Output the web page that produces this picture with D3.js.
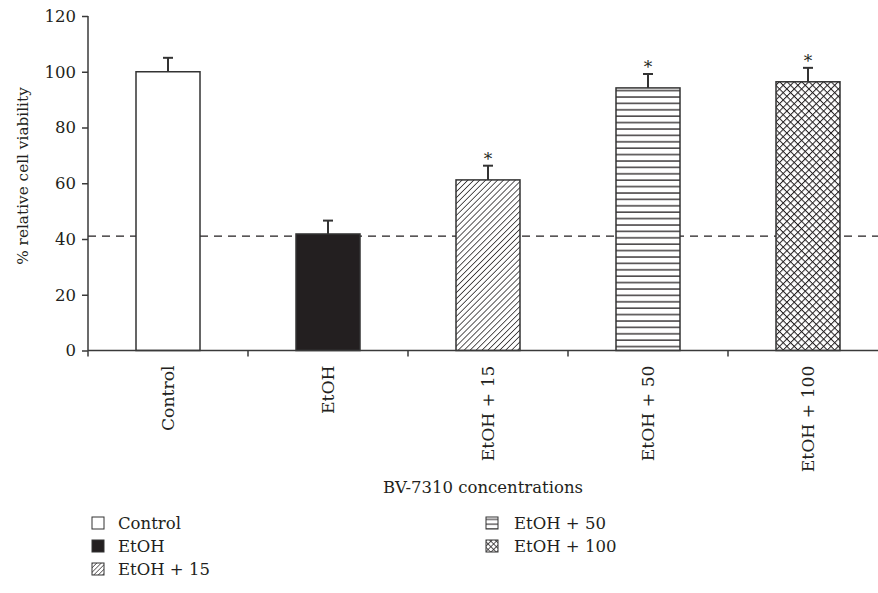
<!DOCTYPE html>
<html>
<head>
<meta charset="utf-8">
<script src="https://cdn.jsdelivr.net/npm/d3@7"></script>
<style>
  html, body { margin: 0; padding: 0; background: #fff; }
  svg { display: block; }
  text { font-family: "DejaVu Serif", "Liberation Serif", serif; fill: #231f20; }
</style>
</head>
<body>
<svg id="chart" width="878" height="593"></svg>
<script>
// ---- data ----
const categories = ["Control", "EtOH", "EtOH + 15", "EtOH + 50", "EtOH + 100"];
const values = [100, 41.8, 61.2, 94.2, 96.4];
const errors = [5.0, 4.8, 5.1, 5.0, 5.0];
const significant = [false, false, true, true, true];
const patterns = ["white", "solid", "diag", "horiz", "cross"];
const yTicks = [0, 20, 40, 60, 80, 100, 120];
const referenceLine = 41;
const xTitle = "BV-7310 concentrations";
const yTitle = "% relative cell viability";

const FS = 16.5;
const svg = d3.select("#chart");
const ink = "#231f20";
const axisColor = "#3a3a3a";

const x = d3.scaleBand().domain(categories).range([88, 888]).paddingInner(0.6).paddingOuter(0.3);
const y = d3.scaleLinear().domain([0, 120]).range([350.5, 16]);

// ---- patterns ----
const defs = svg.append("defs");
function makePatterns(prefix, scale) {
  const d = 4.2 * scale;
  const pd = defs.append("pattern").attr("id", prefix + "diag").attr("patternUnits", "userSpaceOnUse")
    .attr("width", d).attr("height", d).attr("patternTransform", "rotate(45)");
  pd.append("rect").attr("width", d).attr("height", d).attr("fill", "#fff");
  pd.append("line").attr("x1", 0).attr("y1", 0).attr("x2", 0).attr("y2", d)
    .attr("stroke", ink).attr("stroke-width", 1.5 * Math.max(scale, 0.8));

  const ph = defs.append("pattern").attr("id", prefix + "horiz").attr("patternUnits", "userSpaceOnUse")
    .attr("width", 10).attr("height", 6.4 * scale);
  ph.append("rect").attr("width", 10).attr("height", 6.4 * scale).attr("fill", "#fff");
  ph.append("line").attr("x1", 0).attr("y1", 1).attr("x2", 10).attr("y2", 1)
    .attr("stroke", ink).attr("stroke-width", 1.3 * Math.max(scale, 0.8));

  const s = 5.2 * scale;
  const pc = defs.append("pattern").attr("id", prefix + "cross").attr("patternUnits", "userSpaceOnUse")
    .attr("width", s).attr("height", s).attr("patternTransform", "rotate(45)");
  pc.append("rect").attr("width", s).attr("height", s).attr("fill", "#fff");
  pc.append("line").attr("x1", 0).attr("y1", 0).attr("x2", 0).attr("y2", s).attr("stroke", ink).attr("stroke-width", 2.0 * scale);
  pc.append("line").attr("x1", 0).attr("y1", 0).attr("x2", s).attr("y2", 0).attr("stroke", ink).attr("stroke-width", 2.0 * scale);
}
makePatterns("p-", 1);
makePatterns("l-", 0.75);

function fillFor(p, prefix) {
  if (p === "white") return "#fff";
  if (p === "solid") return ink;
  return `url(#${prefix}${p})`;
}

// ---- reference dashed line ----
svg.append("line")
  .attr("x1", 88).attr("x2", 878)
  .attr("y1", y(referenceLine)).attr("y2", y(referenceLine))
  .attr("stroke", ink).attr("stroke-width", 1.3).attr("stroke-dasharray", "8,6");

// ---- bars ----
svg.append("g").selectAll("rect").data(categories).join("rect")
  .attr("x", d => x(d))
  .attr("y", (d, i) => y(values[i]))
  .attr("width", x.bandwidth())
  .attr("height", (d, i) => y(0) - y(values[i]))
  .attr("fill", (d, i) => fillFor(patterns[i], "p-"))
  .attr("stroke", "#333").attr("stroke-width", 1.5);

// ---- error bars ----
const eg = svg.append("g");
categories.forEach((c, i) => {
  const cx = x(c) + x.bandwidth() / 2;
  eg.append("line").attr("x1", cx).attr("x2", cx)
    .attr("y1", y(values[i])).attr("y2", y(values[i] + errors[i]))
    .attr("stroke", "#333").attr("stroke-width", 2);
  eg.append("line").attr("x1", cx - 5).attr("x2", cx + 5)
    .attr("y1", y(values[i] + errors[i])).attr("y2", y(values[i] + errors[i]))
    .attr("stroke", "#333").attr("stroke-width", 2);
  if (significant[i]) {
    eg.append("text").attr("x", cx).attr("y", y(values[i] + errors[i]) - 1)
      .attr("text-anchor", "middle").attr("font-size", 17).attr("fill", "#444").text("*");
  }
});

// ---- axes ----
const yAxis = d3.axisLeft(y).tickValues(yTicks).tickSize(6).tickPadding(6);
const gy = svg.append("g").attr("transform", "translate(88,0)").call(yAxis);
gy.selectAll("path, line").attr("stroke", axisColor).attr("stroke-width", 1.5);
gy.selectAll("text").attr("font-size", FS).attr("font-family", "DejaVu Serif, serif").attr("fill", ink);
gy.select(".domain").attr("d", `M0,${y(120)}V${y(0)}`);

// x axis line
svg.append("line").attr("x1", 88).attr("x2", 878).attr("y1", y(0)).attr("y2", y(0))
  .attr("stroke", axisColor).attr("stroke-width", 1.5);
// ticks between bands
const step = x.step();
const bounds = d3.range(categories.length + 1).map(k => 88 + k * step);
svg.append("g").selectAll("line").data(bounds).join("line")
  .attr("x1", d => d).attr("x2", d => d).attr("y1", y(0)).attr("y2", y(0) + 6)
  .attr("stroke", axisColor).attr("stroke-width", 1.5);

// x labels (rotated)
svg.append("g").selectAll("text").data(categories).join("text")
  .attr("transform", d => `translate(${x(d) + x.bandwidth() / 2 + 6},${y(0) + 15}) rotate(-90)`)
  .attr("text-anchor", "end").attr("font-size", 17.2).text(d => d);

// axis titles
svg.append("text").attr("x", 483).attr("y", 493).attr("text-anchor", "middle")
  .attr("font-size", FS).text(xTitle);
svg.append("text").attr("transform", `translate(28,176) rotate(-90)`).attr("text-anchor", "middle")
  .attr("font-size", 15.3).text(yTitle);

// ---- legend ----
const legendPos = [
  { x: 92, tx: 118, y: 529 }, { x: 92, tx: 118, y: 552 }, { x: 92, tx: 118, y: 575 },
  { x: 486, tx: 514, y: 529 }, { x: 486, tx: 514, y: 552 }
];
const lg = svg.append("g");
categories.forEach((c, i) => {
  const p = legendPos[i];
  lg.append("rect").attr("x", p.x).attr("y", p.y - 12).attr("width", 12).attr("height", 12)
    .attr("fill", fillFor(patterns[i], "l-")).attr("stroke", "#333").attr("stroke-width", 1);
  lg.append("text").attr("x", p.tx).attr("y", p.y).attr("font-size", FS).text(c);
});
</script>
</body>
</html>
